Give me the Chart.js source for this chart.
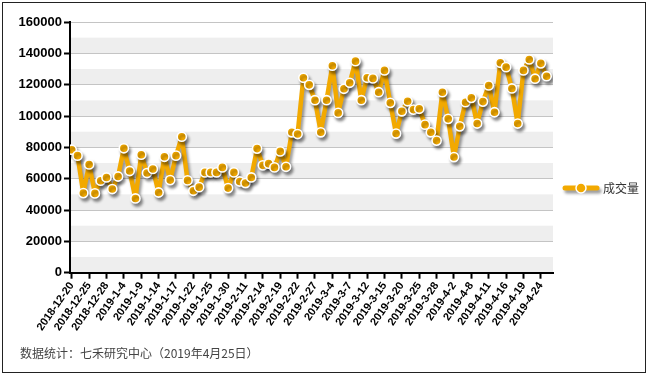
<!DOCTYPE html>
<html>
<head>
<meta charset="utf-8">
<script src="https://cdn.jsdelivr.net/npm/chart.js@4/dist/chart.umd.min.js"></script>
<style>
html,body{margin:0;padding:0;background:#fff;}
#wrap{width:649px;height:376px;position:relative;}
</style>
</head>
<body>
<div id="wrap"><canvas id="c" width="649" height="376"></canvas></div>
<script>
const dates = [
"2018-12-20","2018-12-21","2018-12-24","2018-12-25","2018-12-26","2018-12-27","2018-12-28",
"2019-1-2","2019-1-3","2019-1-4","2019-1-7","2019-1-8","2019-1-9","2019-1-10","2019-1-11",
"2019-1-14","2019-1-15","2019-1-16","2019-1-17","2019-1-18","2019-1-21","2019-1-22","2019-1-23",
"2019-1-24","2019-1-25","2019-1-28","2019-1-29","2019-1-30","2019-1-31",
"2019-2-1","2019-2-11","2019-2-12","2019-2-13","2019-2-14","2019-2-15","2019-2-18","2019-2-19",
"2019-2-20","2019-2-21","2019-2-22","2019-2-25","2019-2-26","2019-2-27","2019-2-28",
"2019-3-1","2019-3-4","2019-3-5","2019-3-6","2019-3-7","2019-3-8","2019-3-11","2019-3-12",
"2019-3-13","2019-3-14","2019-3-15","2019-3-18","2019-3-19","2019-3-20","2019-3-21","2019-3-22",
"2019-3-25","2019-3-26","2019-3-27","2019-3-28","2019-3-29",
"2019-4-1","2019-4-2","2019-4-3","2019-4-4","2019-4-8","2019-4-9","2019-4-10","2019-4-11",
"2019-4-12","2019-4-15","2019-4-16","2019-4-17","2019-4-18","2019-4-19","2019-4-22","2019-4-23",
"2019-4-24","2019-4-25"
];
const volumes = [
78500,74700,50800,69100,50600,58700,60800,
53400,61400,79400,64900,47400,75300,63600,66200,
51200,74000,59100,74700,86800,58900,52300,54600,
64000,64000,64000,67200,54000,64000,
58200,57200,60800,79200,68500,69600,67200,77400,
67600,89600,88500,124400,119900,110100,89600,
110100,132100,102000,117400,121200,135000,110100,124400,
124000,115200,129100,108400,88800,103000,109400,104100,
104600,94500,89600,84300,115200,
98200,73800,93400,108800,111600,95200,109200,119500,
102400,134000,131200,117600,95200,129100,136100,123800,
133600,125400
];
const yTicks = [0,20000,40000,60000,80000,100000,120000,140000,160000];
const seriesName = "成交量";
const footerText = "数据统计：七禾研究中心（2019年4月25日）";
const labelEvery = 3;

const ORANGE = "#F2A900";
const points = volumes.map((v,i)=>({x:i,y:v}));

const bgPlugin = {
  id:"bg",
  beforeDraw(chart){
    const {ctx, chartArea:a, scales:{y}} = chart;
    ctx.save();
    ctx.fillStyle="#fff";
    ctx.fillRect(0,0,chart.width,chart.height);
    ctx.fillStyle="#EEEEEE";
    for(let v=0; v<160000; v+=20000){
      const y1=y.getPixelForValue(v), y2=y.getPixelForValue(v+10000);
      ctx.fillRect(a.left,y2,a.right-a.left,y1-y2);
    }
    ctx.restore();
  },
  beforeDatasetsDraw(chart){
    const ctx=chart.ctx;
    ctx.save();
    ctx.shadowColor="rgba(0,0,0,0.4)";
    ctx.shadowBlur=3;
    ctx.shadowOffsetX=2;
    ctx.shadowOffsetY=3;
  },
  afterDatasetsDraw(chart){
    chart.ctx.restore();
  },
  afterDraw(chart){
    const ctx=chart.ctx;
    ctx.save();
    // legend
    const ly=188, lx=565;
    ctx.shadowColor="rgba(0,0,0,0.4)";
    ctx.shadowBlur=3; ctx.shadowOffsetX=2; ctx.shadowOffsetY=3;
    ctx.strokeStyle=ORANGE; ctx.lineWidth=5; ctx.lineCap="round";
    ctx.beginPath(); ctx.moveTo(lx,ly); ctx.lineTo(lx+32,ly); ctx.stroke();
    ctx.shadowColor="transparent";
    ctx.fillStyle=ORANGE; ctx.strokeStyle="#fff"; ctx.lineWidth=1.5;
    ctx.beginPath(); ctx.arc(lx+16,ly,5,0,Math.PI*2); ctx.fill(); ctx.stroke();
    ctx.fillStyle="#333";
    ctx.font="12px 'Noto Sans CJK SC'";
    ctx.textBaseline="middle"; ctx.textAlign="left";
    ctx.fillText(seriesName, lx+38, ly);
    // footer
    ctx.fillStyle="#444";
    ctx.font="12px 'Noto Sans CJK SC'";
    ctx.textBaseline="middle";
    ctx.fillText(footerText, 20, 353);
    // outer border
    ctx.strokeStyle="#222"; ctx.lineWidth=1;
    ctx.strokeRect(2.5,2.5,643,370);
    ctx.restore();
  }
};

new Chart(document.getElementById("c"), {
  type:"line",
  data:{
    datasets:[{
      label:seriesName,
      data:points,
      borderColor:ORANGE,
      borderWidth:4.5,
      borderJoinStyle:"round",
      borderCapStyle:"round",
      backgroundColor:ORANGE,
      pointBackgroundColor:ORANGE,
      pointBorderColor:"#fff",
      pointBorderWidth:1.6,
      pointRadius:4.6,
      tension:0,
      fill:false
    }]
  },
  options:{
    responsive:false,
    animation:false,
    events:[],
    layout:{padding:{left:0,top:22,right:96,bottom:0}},
    plugins:{legend:{display:false},tooltip:{enabled:false}},
    scales:{
      x:{
        type:"linear",
        min:-0.3, max:83.1,
        afterBuildTicks(scale){
          scale.ticks = dates.map((d,i)=>i).filter(i=>i%labelEvery===0).map(v=>({value:v}));
        },
        afterFit(scale){ scale.height = 103.3; },
        ticks:{
          autoSkip:false,
          minRotation:55, maxRotation:55,
          padding:1,
          color:"#000",
          font:{family:"'Liberation Sans', Arial, sans-serif", size:11, weight:"bold"},
          callback:(v)=>dates[v]
        },
        grid:{drawOnChartArea:false, drawTicks:true, tickLength:6, tickColor:"#000", tickWidth:2},
        border:{display:true,color:"#000",width:2}
      },
      y:{
        min:0,max:160000,
        afterBuildTicks(scale){
          const t=[]; for(let v=0; v<=160000; v+=10000) t.push({value:v});
          scale.ticks=t;
        },
        afterFit(scale){ scale.width = 70; },
        ticks:{
          padding:2,
          color:"#000",
          font:{family:"'Liberation Sans', Arial, sans-serif", size:13, weight:"bold"},
          callback:(v)=> yTicks.includes(v) ? String(v) : ""
        },
        grid:{
          color:"#C4C4C4", lineWidth:1, tickLength:6,
          tickColor:(c)=> (c.tick && c.tick.value%20000===0) ? "#000" : "rgba(0,0,0,0)",
          tickWidth:2
        },
        border:{display:true,color:"#000",width:2}
      }
    }
  },
  plugins:[bgPlugin]
});
</script>
</body>
</html>
